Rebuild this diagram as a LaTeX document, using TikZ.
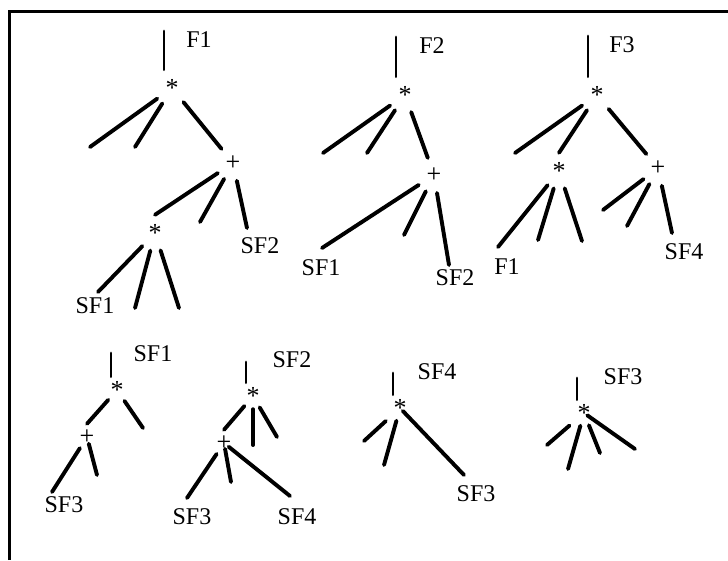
\documentclass[tikz,border=0pt]{standalone}
\usepackage{fontspec}
\setmainfont{Liberation Serif}
\tikzset{
  op/.style={circle, inner sep=0pt, minimum size=36pt, font=\fontsize{26}{26}\selectfont},
  smallop/.style={op, minimum size=26pt},
  lbl/.style={inner sep=0pt, font=\fontsize{24}{24}\selectfont},
  branch/.style={line width=3.9pt, line cap=round},
  stub/.style={line width=2.8pt, line cap=round},
  frame/.style={line width=3pt},
}

\begin{document}
\begin{tikzpicture}[x=1pt, y=-1pt]
    \useasboundingbox (0,0) rectangle (728,560);
    \draw[frame] (9,560) -- (9,11.5) -- (728,11.5);

    %% --- F1 ---
    \coordinate (f1_top) at (164,31);
    \node[lbl] (f1_name) at (199,40) {F1};
    \node[op] (f1_star) at (172,88) {*};
    \node[op] (f1_plus) at (233,163) {+};
    \node[op] (f1_sub) at (155,233) {*};
    \coordinate (f1_a) at (90,147);
    \coordinate (f1_b) at (135,147);
    \coordinate (f1_c) at (200,222);
    \coordinate (f1_d) at (247,228);
    \coordinate (f1_e) at (98,292);
    \coordinate (f1_f) at (135,308);
    \coordinate (f1_g) at (179,308);
    \node[lbl] (f1_sf2) at (260,246) {SF2};
    \node[lbl] (f1_sf1) at (95,306) {SF1};
    \draw[stub] (f1_top) -- (f1_top |- f1_star.north);
    \draw[branch] (f1_star) -- (f1_a);
    \draw[branch] (f1_star) -- (f1_b);
    \draw[branch] (f1_star) -- (f1_plus);
    \draw[branch] (f1_plus) -- (f1_sub.north);
    \draw[branch] (f1_plus) -- (f1_c);
    \draw[branch] (f1_plus) -- (f1_d);
    \draw[branch] (f1_sub) -- (f1_e);
    \draw[branch] (f1_sub) -- (f1_f);
    \draw[branch] (f1_sub) -- (f1_g);

    %% --- F2 ---
    \coordinate (f2_top) at (396,37);
    \node[lbl] (f2_name) at (432,46) {F2};
    \node[op] (f2_star) at (405,95) {*};
    \node[op] (f2_plus) at (434,175) {+};
    \coordinate (f2_a) at (323,153);
    \coordinate (f2_b) at (367,153);
    \coordinate (f2_c) at (322,248);
    \coordinate (f2_d) at (404,235);
    \coordinate (f2_e) at (449,265);
    \node[lbl] (f2_sf1) at (321,268) {SF1};
    \node[lbl] (f2_sf2) at (455,278) {SF2};
    \draw[stub] (f2_top) -- (f2_top |- f2_star.north);
    \draw[branch] (f2_star) -- (f2_a);
    \draw[branch] (f2_star) -- (f2_b);
    \draw[branch] (f2_star) -- (f2_plus);
    \draw[branch] (f2_plus) -- (f2_c);
    \draw[branch] (f2_plus) -- (f2_d);
    \draw[branch] (f2_plus) -- (f2_e);

    %% --- F3 ---
    \coordinate (f3_top) at (588,36);
    \node[lbl] (f3_name) at (622,45) {F3};
    \node[op] (f3_star) at (597,95) {*};
    \node[op] (f3_sub) at (559,171) {*};
    \node[op] (f3_plus) at (658,168) {+};
    \coordinate (f3_a) at (515,153);
    \coordinate (f3_b) at (498,247);
    \coordinate (f3_c) at (538,240);
    \coordinate (f3_d) at (582,241);
    \coordinate (f3_e) at (603,210);
    \coordinate (f3_f) at (627,226);
    \coordinate (f3_g) at (672,233);
    \node[lbl] (f3_f1) at (507,267) {F1};
    \node[lbl] (f3_sf4) at (684,252) {SF4};
    \draw[stub] (f3_top) -- (f3_top |- f3_star.north);
    \draw[branch] (f3_star) -- (f3_a);
    \draw[branch] (f3_star) -- (f3_sub.north);
    \draw[branch] (f3_star) -- (f3_plus);
    \draw[branch] (f3_sub) -- (f3_b);
    \draw[branch] (f3_sub) -- (f3_c);
    \draw[branch] (f3_sub) -- (f3_d);
    \draw[branch] (f3_plus) -- (f3_e);
    \draw[branch] (f3_plus) -- (f3_f);
    \draw[branch] (f3_plus) -- (f3_g);

    %% --- SF1 ---
    \coordinate (g1_top) at (111,353);
    \node[lbl] (g1_name) at (153,354) {SF1};
    \node[smallop] (g1_star) at (117,390) {*};
    \node[smallop] (g1_plus) at (87,437) {+};
    \coordinate (g1_a) at (143,428);
    \coordinate (g1_b) at (52,492);
    \coordinate (g1_c) at (97,475);
    \node[lbl] (g1_sf3) at (64,505) {SF3};
    \draw[stub] (g1_top) -- (g1_top |- g1_star.north);
    \draw[branch] (g1_star) -- (g1_plus.north);
    \draw[branch] (g1_star) -- (g1_a);
    \draw[branch] (g1_plus) -- (g1_b);
    \draw[branch, shorten <=7pt] (g1_plus.center) -- (g1_c);

    %% --- SF2 ---
    \coordinate (g2_top) at (246,362);
    \node[lbl] (g2_name) at (292,360) {SF2};
    \node[smallop] (g2_star) at (253,396) {*};
    \node[smallop] (g2_plus) at (224,443) {+};
    \coordinate (g2_a) at (253,445);
    \coordinate (g2_b) at (277,437);
    \coordinate (g2_c) at (187,498);
    \coordinate (g2_d) at (231,482);
    \coordinate (g2_e) at (290,496);
    \node[lbl] (g2_sf3) at (192,517) {SF3};
    \node[lbl] (g2_sf4) at (297,517) {SF4};
    \draw[stub] (g2_top) -- (g2_top |- g2_star.north);
    \draw[branch] (g2_star) -- (g2_plus.north);
    \draw[branch] (g2_star) -- (g2_a);
    \draw[branch] (g2_star) -- (g2_b);
    \draw[branch] (g2_plus) -- (g2_c);
    \draw[branch, shorten <=6pt] (g2_plus.center) -- (g2_d);
    \draw[branch, shorten <=6pt] (g2_plus.center) -- (g2_e);

    %% --- SF4 ---
    \coordinate (g3_top) at (393,373);
    \node[lbl] (g3_name) at (437,372) {SF4};
    \node[smallop] (g3_star) at (400,408) {*};
    \coordinate (g3_a) at (364,441);
    \coordinate (g3_b) at (384,465);
    \coordinate (g3_c) at (464,475);
    \node[lbl] (g3_sf3) at (476,494) {SF3};
    \draw[stub] (g3_top) -- (g3_top |- g3_star.north);
    \draw[branch, shorten <=6pt] (g3_star) -- (g3_a);
    \draw[branch] (g3_star) -- (g3_b);
    \draw[branch, shorten <=4pt] (g3_star.center) -- (g3_c);

    %% --- SF3 ---
    \coordinate (g4_top) at (577,378);
    \node[lbl] (g4_name) at (623,377) {SF3};
    \node[smallop] (g4_star) at (584,413) {*};
    \coordinate (g4_a) at (547,445);
    \coordinate (g4_b) at (568,469);
    \coordinate (g4_c) at (600,453);
    \coordinate (g4_d) at (635,449);
    \draw[stub] (g4_top) -- (g4_top |- g4_star.north);
    \draw[branch, shorten <=6pt] (g4_star) -- (g4_a);
    \draw[branch] (g4_star) -- (g4_b);
    \draw[branch] (g4_star) -- (g4_c);
    \draw[branch, shorten <=4pt] (g4_star.center) -- (g4_d);
\end{tikzpicture}
\end{document}
